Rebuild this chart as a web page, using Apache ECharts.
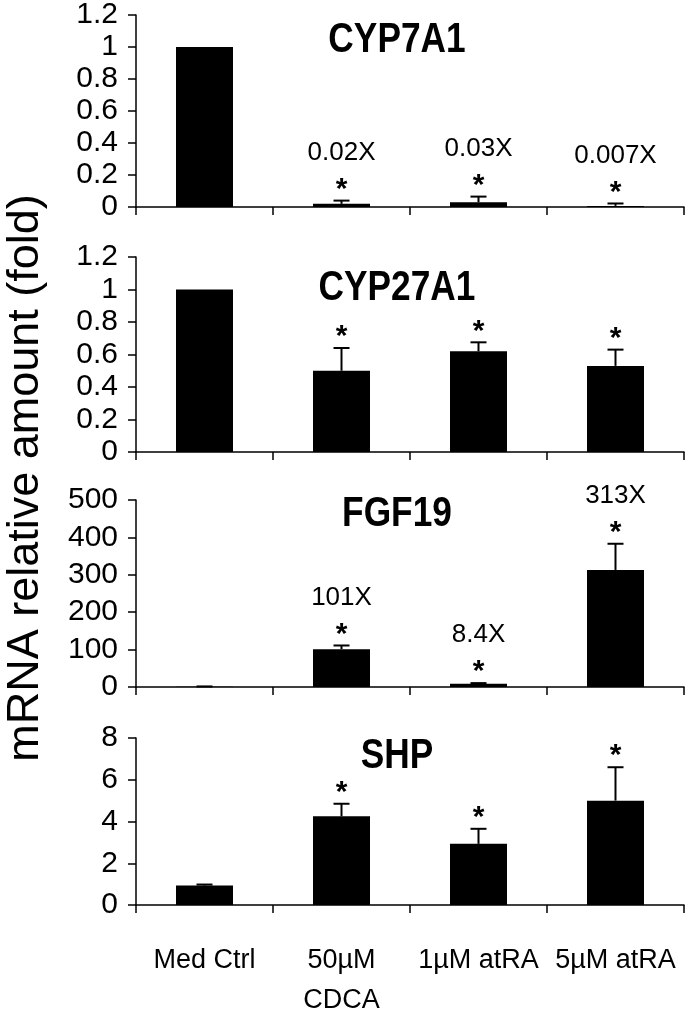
<!DOCTYPE html>
<html>
<head>
<meta charset="utf-8">
<script src="https://cdn.jsdelivr.net/npm/echarts@6/dist/echarts.min.js"></script>
<style>
html,body{margin:0;padding:0;background:#fff;}
#chart{width:688px;height:1021px;}
</style>
</head>
<body>
<div id="chart"></div>
<script>
// ---- data ----
const categories = ['Med Ctrl', '50\u00b5M\nCDCA', '1\u00b5M atRA', '5\u00b5M atRA'];
const panelTitles = ['CYP7A1', 'CYP27A1', 'FGF19', 'SHP'];

const cyp7a1 = [1, 0.02, 0.03, 0.007];
const cyp7a1Err = [0, 0.02, 0.035, 0.015];
const cyp7a1Notes = ['', '0.02X', '0.03X', '0.007X'];
const cyp7a1Sig = [false, true, true, true];

const cyp27a1 = [1, 0.5, 0.62, 0.53];
const cyp27a1Err = [0, 0.14, 0.055, 0.1];
const cyp27a1Notes = ['', '', '', ''];
const cyp27a1Sig = [false, true, true, true];

const fgf19 = [1, 101, 8.4, 313];
const fgf19Err = [0.5, 10, 2, 70];
const fgf19Notes = ['', '101X', '8.4X', '313X'];
const fgf19Sig = [false, true, true, true];

const shp = [0.93, 4.25, 2.93, 5.0];
const shpErr = [0.05, 0.6, 0.72, 1.6];
const shpNotes = ['', '', '', ''];
const shpSig = [false, true, true, true];

const yMax = [1.2, 1.2, 500, 8];
const yInterval = [0.2, 0.2, 100, 2];
const yTitle = 'mRNA relative amount (fold)';

// ---- layout ----
const panels = [
  {vals: cyp7a1, err: cyp7a1Err, notes: cyp7a1Notes, sig: cyp7a1Sig},
  {vals: cyp27a1, err: cyp27a1Err, notes: cyp27a1Notes, sig: cyp27a1Sig},
  {vals: fgf19, err: fgf19Err, notes: fgf19Notes, sig: fgf19Sig},
  {vals: shp, err: shpErr, notes: shpNotes, sig: shpSig}
];
const gridBoxes = [
  {top: 13, height: 194},
  {top: 257, height: 195},
  {top: 500, height: 187},
  {top: 738, height: 176}
];
const titleY = [40, 288, 514, 756];
const AXIS_LEFT = 136, AXIS_RIGHT = 4;
const FONT = '"Liberation Sans", Arial, sans-serif';

const chart = echarts.init(document.getElementById('chart'), null, {renderer: 'canvas'});

const grids = [], xAxes = [], yAxes = [], series = [], graphics = [];
const noteInfo = {};

function errRender(params, api) {
  const x = api.value(0), v = api.value(1), e = api.value(2);
  if (!e) return null;
  const base = api.coord([x, v]);
  const top = api.coord([x, v + e]);
  const hw = 8;
  return {
    type: 'group',
    children: [
      {type: 'line', shape: {x1: base[0], y1: base[1], x2: top[0], y2: top[1]}, style: {stroke: '#000', lineWidth: 2}},
      {type: 'line', shape: {x1: top[0] - hw, y1: top[1], x2: top[0] + hw, y2: top[1]}, style: {stroke: '#000', lineWidth: 2}}
    ]
  };
}

function noteRender(params, api) {
  const x = api.value(0), v = api.value(1), e = api.value(2);
  const p = api.coord([x, v + e]);
  const children = [];
  const info = noteInfo[params.seriesId][params.dataIndex];
  if (info.sig) {
    children.push({type: 'text', x: p[0], y: p[1] - 11,
      style: {text: '*', font: 'bold 30px ' + FONT, fill: '#000', align: 'center', verticalAlign: 'middle'}});
  }
  if (info.note) {
    children.push({type: 'text', x: p[0], y: p[1] - 48,
      style: {text: info.note, font: '26px ' + FONT, fill: '#000', align: 'center', verticalAlign: 'middle'}});
  }
  return {type: 'group', children: children};
}

panels.forEach((pn, k) => {
  grids.push({left: AXIS_LEFT, right: AXIS_RIGHT, top: gridBoxes[k].top, height: gridBoxes[k].height, containLabel: false});
  const isLast = k === panels.length - 1;
  xAxes.push({
    type: 'category', gridIndex: k, data: categories,
    axisLine: {lineStyle: {color: '#000', width: 1.5}},
    axisTick: {show: true, length: 8, lineStyle: {color: '#000', width: 1.5}},
    axisLabel: {show: isLast, color: '#000', fontFamily: FONT, fontSize: 27, lineHeight: 40, margin: 36, interval: 0},
    splitLine: {show: false}
  });
  yAxes.push({
    type: 'value', gridIndex: k, min: 0, max: yMax[k], interval: yInterval[k],
    axisLine: {show: true, lineStyle: {color: '#000', width: 1.5}},
    axisTick: {show: true, length: 8, lineStyle: {color: '#000', width: 1.5}},
    axisLabel: {color: '#000', fontFamily: FONT, fontSize: 30, margin: 18},
    splitLine: {show: false}
  });
  series.push({
    type: 'bar', xAxisIndex: k, yAxisIndex: k, data: pn.vals,
    barWidth: 57, itemStyle: {color: '#000'}, silent: true
  });
  series.push({
    type: 'custom', xAxisIndex: k, yAxisIndex: k,
    data: pn.vals.map((v, i) => [i, v, pn.err[i]]),
    encode: {x: 0, y: 1}, renderItem: errRender, silent: true, z: 3
  });
  const id = 'notes' + k;
  noteInfo[id] = pn.vals.map((v, i) => ({note: pn.notes[i], sig: pn.sig[i]}));
  series.push({
    type: 'custom', id: id, xAxisIndex: k, yAxisIndex: k,
    data: pn.vals.map((v, i) => [i, v, pn.err[i]]),
    encode: {x: 0, y: 1}, renderItem: noteRender, silent: true, z: 4, clip: false
  });
  graphics.push({
    type: 'text', x: 397, y: titleY[k], scaleX: 0.84,
    style: {text: panelTitles[k], font: 'bold 42px ' + FONT, fill: '#000', align: 'center', verticalAlign: 'middle'}
  });
});

graphics.push({
  type: 'text', x: 26, y: 478, rotation: Math.PI / 2,
  style: {text: yTitle, font: '45px ' + FONT, fill: '#000', align: 'center', verticalAlign: 'middle'}
});

chart.setOption({
  animation: false,
  backgroundColor: '#fff',
  grid: grids,
  xAxis: xAxes,
  yAxis: yAxes,
  series: series,
  graphic: graphics
});
</script>
</body>
</html>
